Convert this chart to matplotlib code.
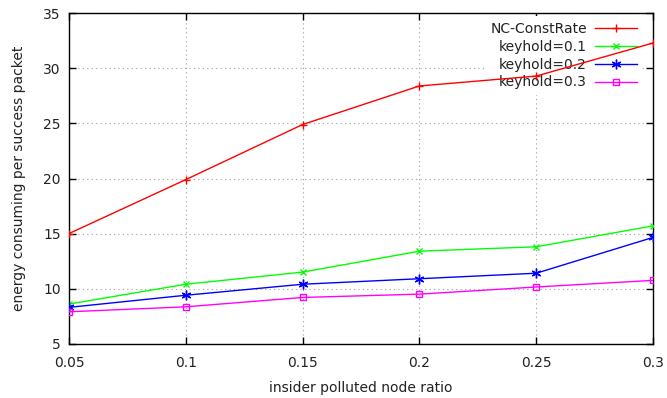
"""Energy per successful packet vs insider polluted node ratio."""

import matplotlib

matplotlib.use("Agg")
import matplotlib.pyplot as plt

ratio = [0.05, 0.1, 0.15, 0.2, 0.25, 0.3]
nc_constrate = [15.0, 19.9, 24.9, 28.4, 29.3, 32.3]
keyhold_01 = [8.6, 10.4, 11.5, 13.4, 13.8, 15.7]
keyhold_02 = [8.3, 9.4, 10.4, 10.9, 11.4, 14.65]
keyhold_03 = [7.9, 8.35, 9.2, 9.5, 10.15, 10.75]

series = [
    ("NC-ConstRate", nc_constrate, "#ff0000", "+", 6),
    ("keyhold=0.1", keyhold_01, "#00ff00", "x", 5),
    ("keyhold=0.2", keyhold_02, "#0000ff", (6, 2, 0), 7),
    ("keyhold=0.3", keyhold_03, "#ff00ff", "s", 4.5),
]

plt.rcParams["font.family"] = "DejaVu Sans"
plt.rcParams["font.size"] = 10

fig = plt.figure(figsize=(6.67, 3.98), dpi=100)
ax = fig.add_axes([0.1034, 0.1364, 0.8756, 0.8302])

for label, values, color, marker, ms in series:
    ax.plot(ratio, values, color=color, lw=1.0, marker=marker, ms=ms,
            mew=1.0, fillstyle="none", label=label, zorder=3)

ax.set_xlim(0.05, 0.3)
ax.set_ylim(5, 35)
ax.set_xticks(ratio)
ax.set_xticklabels(["0.05", "0.1", "0.15", "0.2", "0.25", "0.3"])
ax.set_yticks(range(5, 36, 5))

ax.set_axisbelow(True)
ax.grid(True, color="#a0a0a0", linestyle=(0, (1, 3)), lw=0.8)
ax.tick_params(direction="in", length=5, width=1.0, top=True, right=True,
               colors="black", labelcolor="#222222")
ax.tick_params(axis="x", pad=9)
ax.tick_params(axis="y", pad=6)
for sp in ax.spines.values():
    sp.set_linewidth(1.0)

ax.set_xlabel("insider polluted node ratio", color="#222222", labelpad=8)
ax.set_ylabel("energy consuming per success packet", color="#222222",
              labelpad=12)

# markerfirst=False right-aligns the rows, so label text ends line up
leg = ax.legend(loc="upper right", bbox_to_anchor=(0.982, 0.991),
                borderaxespad=0, frameon=True, markerfirst=False,
                handlelength=3.0, handletextpad=0.6, labelspacing=0.28,
                borderpad=0.4, fancybox=False)
leg.get_frame().set_facecolor("white")
leg.get_frame().set_edgecolor("none")
leg.get_frame().set_alpha(1.0)
leg.set_zorder(2)
for t in leg.get_texts():
    t.set_color("#222222")

fig.savefig("out.png", dpi=100)
